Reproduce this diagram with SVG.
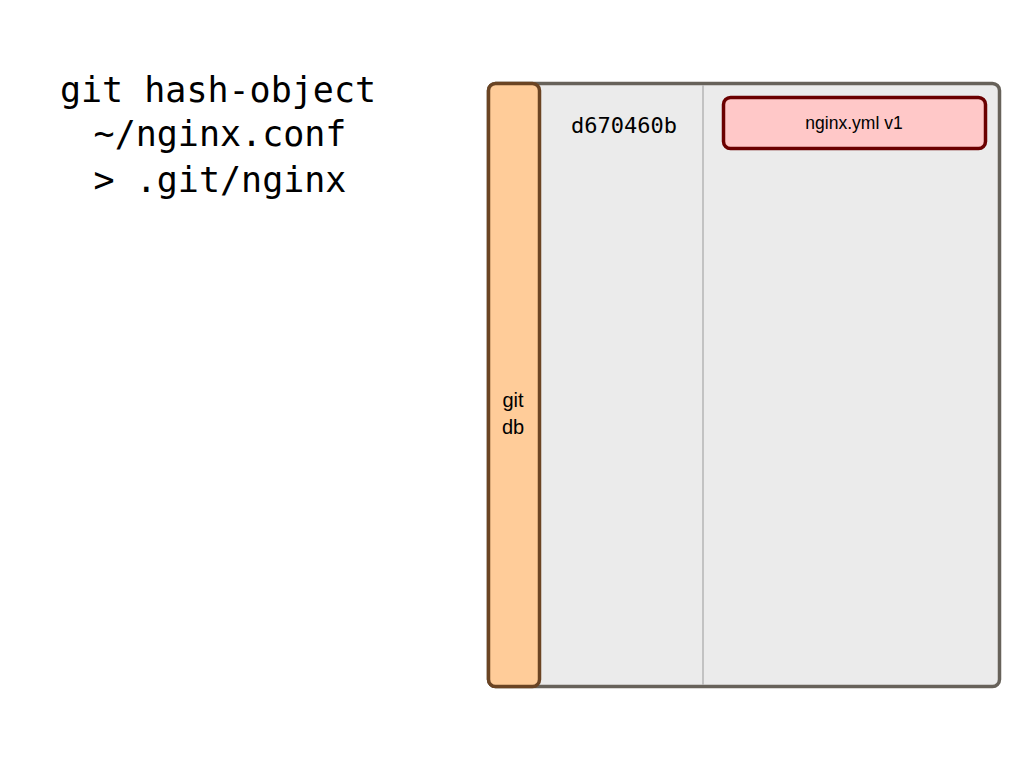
<svg xmlns="http://www.w3.org/2000/svg" width="1024" height="768" viewBox="0 0 1024 768">
<style>
.mono{font-family:"DejaVu Sans Mono","Liberation Mono",monospace;fill:#000}
.sans{font-family:"Liberation Sans",Arial,sans-serif;fill:#000}
</style>
<rect width="1024" height="768" fill="#fff"/>
<g id="command">
<text class="mono" font-size="35" text-anchor="middle" x="218" y="102">git hash-object</text>
<text class="mono" font-size="35" text-anchor="middle" x="220" y="146">~/nginx.conf</text>
<text class="mono" font-size="35" text-anchor="middle" x="220" y="192">&gt; .git/nginx</text>
</g>
<g id="gitdb-container">
<rect x="488.5" y="83.5" width="511" height="603" rx="7" fill="#ebebeb" stroke="#67625a" stroke-width="3.5"/>
<line x1="703" y1="85" x2="703" y2="685" stroke="#b4b4b4" stroke-width="1.5"/>
</g>
<g id="gitdb">
<rect x="488.5" y="83.5" width="51" height="603" rx="7" fill="#ffcc99" stroke="#6b4423" stroke-width="3.5"/>
<text class="sans" font-size="20" text-anchor="middle" x="513" y="407">git</text>
<text class="sans" font-size="20" text-anchor="middle" x="513" y="434">db</text>
</g>
<g id="hash">
<text class="mono" font-size="22" text-anchor="middle" x="624" y="133">d670460b</text>
</g>
<g id="blob">
<rect x="723.5" y="97.5" width="262" height="51" rx="7" fill="#ffc8c8" stroke="#6b0000" stroke-width="3.5"/>
<text class="sans" font-size="17.5" text-anchor="middle" x="854" y="129">nginx.yml v1</text>
</g>
<g id="connectors"></g>
</svg>
